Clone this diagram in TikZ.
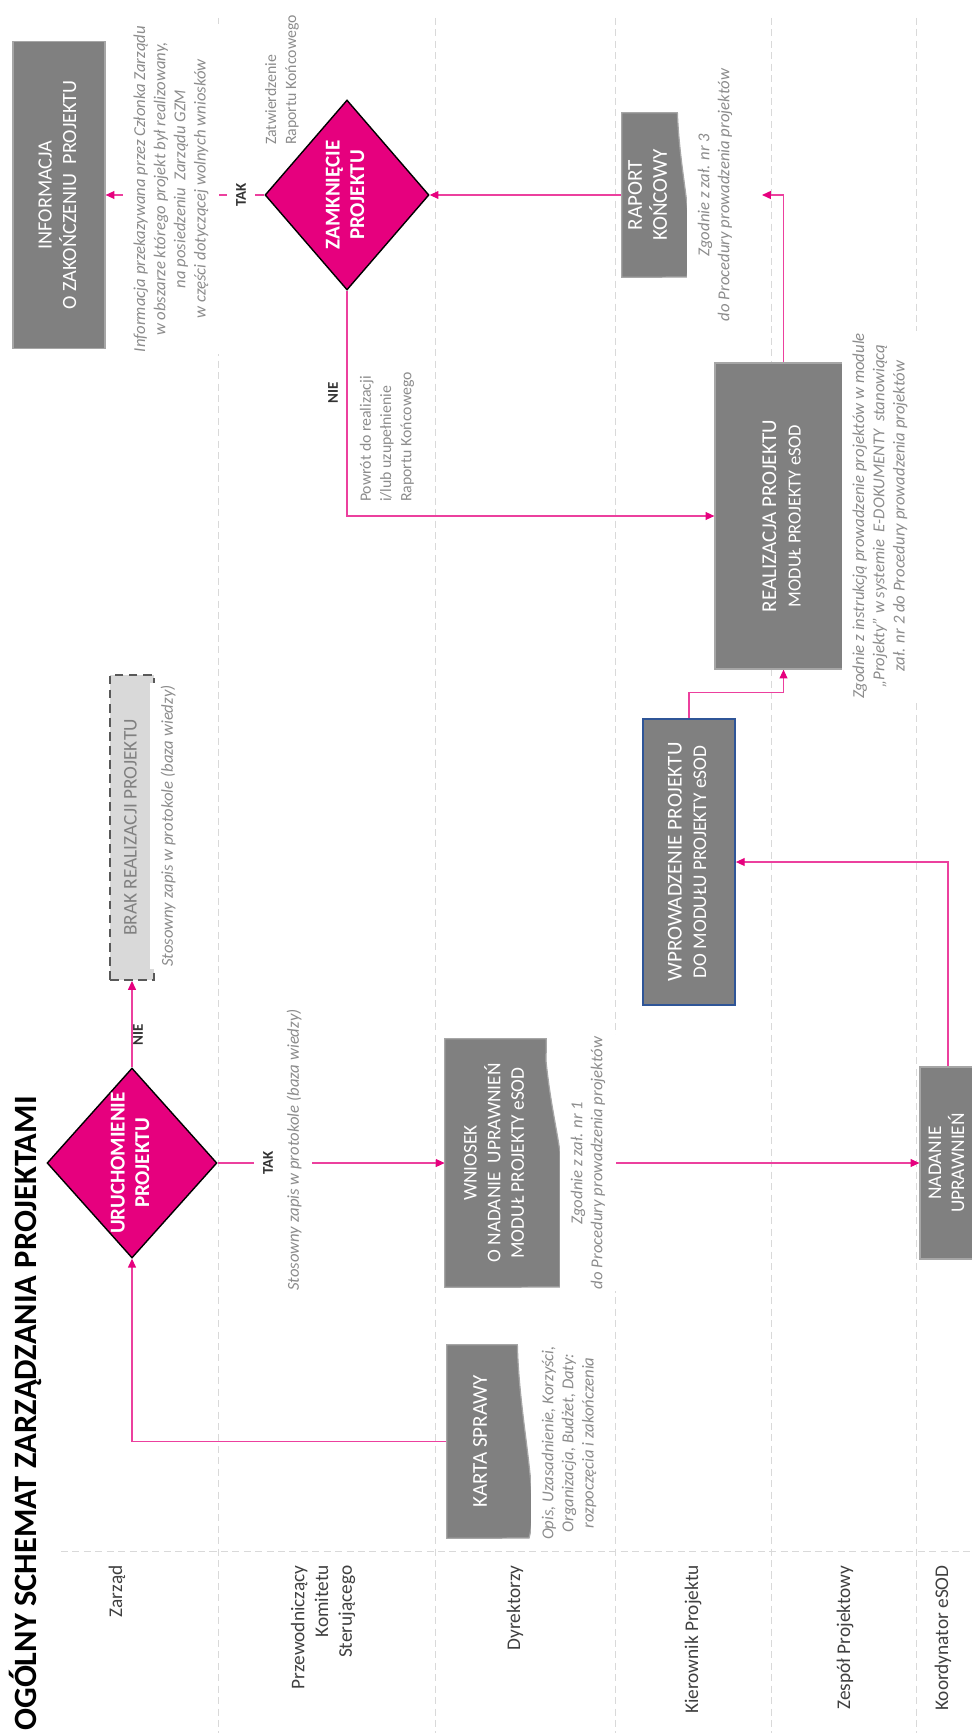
\documentclass[tikz,border=0pt]{standalone}
\usepackage{fontspec}
\setmainfont{Carlito}
\usepackage{graphicx}
\usetikzlibrary{shapes.geometric,arrows.meta,backgrounds}
\definecolor{gzmpink}{RGB}{230,0,126}
\definecolor{boxgrey}{RGB}{128,128,128}
\definecolor{wprblue}{RGB}{47,85,151}
\newcommand{\uptext}[1]{\rotatebox{90}{\begin{tabular}{@{}c@{}}#1\end{tabular}}}

\begin{document}
\begin{tikzpicture}[x=0.2mm, y=-0.2mm,
    lanesep/.style={draw=black!15, line width=0.5pt, dash pattern=on 4pt off 2.5pt},
    greybox/.style={rectangle, fill=boxgrey, draw=black!35, line width=0.7pt, text=white, inner sep=0pt},
    docbox/.style={rectangle, text=white, inner sep=0pt},
    docshape/.style={fill=boxgrey, draw=black!35, line width=0.7pt},
    decision/.style={diamond, fill=gzmpink, draw=black, line width=0.8pt, text=white, inner sep=-3pt,
        minimum width=3.28cm, minimum height=3.8cm, font=\fontsize{12}{14}\selectfont\bfseries},
    note/.style={rotate=90, align=center, fill=white, text=black!45, inner xsep=1pt, inner ysep=6pt,
        font=\fontsize{9.5}{11.5}\selectfont\itshape},
    remark/.style={rotate=90, align=left, anchor=west, text=black!45, inner sep=1pt,
        font=\fontsize{9}{11.5}\selectfont},
    lanelabel/.style={rotate=90, align=right, anchor=east, text=black!75, inner sep=0pt,
        font=\fontsize{11}{13.5}\selectfont},
    answer/.style={rotate=90, fill=white, text=black!80, inner xsep=2pt, inner ysep=5pt,
        font=\fontsize{8.5}{10}\selectfont\bfseries},
    flow/.style={draw=gzmpink!75, line width=0.6pt, -{Triangle[length=5pt, width=4.5pt, color=gzmpink]}}
]
    \useasboundingbox (0,0) rectangle (971,1733);

    % Title and swimlane names
    \node[rotate=90, anchor=west, inner sep=0pt, font=\fontsize{18.5}{22}\selectfont\bfseries] (title) at (25,1731)
        {OGÓLNY SCHEMAT ZARZĄDZANIA PROJEKTAMI};
    \node[lanelabel] (lzarz) at (117,1565) {Zarząd};
    \node[lanelabel] (lprzew) at (323,1565) {Przewodniczący\\Komitetu\\Sterującego};
    \node[lanelabel] (ldyr) at (515,1565) {Dyrektorzy};
    \node[lanelabel] (lkier) at (693,1565) {Kierownik Projektu};
    \node[lanelabel] (lzesp) at (845,1565) {Zespół Projektowy};
    \node[lanelabel] (lkoord) at (943,1565) {Koordynator eSOD};

    % Steps
    \node[greybox, minimum width=1.84cm, minimum height=6.14cm, font=\fontsize{11.5}{14}\selectfont] (info) at (59,195)
        {\uptext{INFORMACJA\\O ZAKOŃCZENIU\ \ PROJEKTU}};
    \node[decision] (zam) at (347,195) {\uptext{ZAMKNIĘCIE\\PROJEKTU}};
    \node[docbox, minimum width=1.1cm, minimum height=3.28cm, font=\fontsize{12}{14}\selectfont] (raport) at (649.5,195)
        {\uptext{RAPORT\\KOŃCOWY}};
    \node[greybox, minimum width=2.74cm, minimum height=6.12cm, font=\fontsize{12}{14}\selectfont] (real) at (783.5,516)
        {\uptext{REALIZACJA PROJEKTU\\\fontsize{10.5}{13}\selectfont MODUŁ PROJEKTY eSOD}};
    \node[greybox, draw=wprblue, line width=1pt, minimum width=1.84cm, minimum height=5.72cm,
        font=\fontsize{12}{14}\selectfont] (wpr) at (689,862)
        {\uptext{WPROWADZENIE PROJEKTU\\\fontsize{11}{13}\selectfont DO MODUŁU PROJEKTY eSOD}};
    \node[greybox, minimum width=1.12cm, minimum height=3.84cm, font=\fontsize{11}{13}\selectfont] (nad) at (948,1163)
        {\uptext{NADANIE\\UPRAWNIEŃ}};
    \node[docbox, minimum width=2.02cm, minimum height=4.96cm, font=\fontsize{11}{13.5}\selectfont] (wn) at (495.5,1163)
        {\uptext{WNIOSEK\\O NADANIE\ \ UPRAWNIEŃ\\MODUŁ PROJEKTY eSOD}};
    \node[decision] (uru) at (132,1163) {\uptext{URUCHOMIENIE\\PROJEKTU}};
    \node[rectangle, fill=black!15, draw=black!65, line width=1.1pt, dash pattern=on 5pt off 3pt, text=black!50,
        inner sep=0pt, minimum width=0.88cm, minimum height=6.1cm, font=\fontsize{11}{13}\selectfont] (brak) at (132,827.5)
        {\uptext{BRAK REALIZACJI PROJEKTU}};
    \node[docbox, minimum width=1.4cm, minimum height=3.86cm, font=\fontsize{12}{14}\selectfont] (karta) at (482,1441.5)
        {\uptext{KARTA SPRAWY}};
    \coordinate (rapin) at (762,195);

    % Comments beside the steps
    \node[note] (infonote) at (171,189) {Informacja przekazywana przez Członka Zarządu\\w obszarze którego projekt był realizowany,\\na posiedzeniu\ \ Zarządu GZM\\w części dotyczącej wolnych wniosków};
    \node[remark] (zatw) at (282,147) {Zatwierdzenie\\Raportu Końcowego};
    \node[remark] (powrot) at (387,504) {Powrót do realizacji\\i/lub uzupełnienie\\Raportu Końcowego};
    \node[note] (raportnote) at (715,195) {Zgodnie z zał. nr 3\\do Procedury prowadzenia projektów};
    \node[note] (realnote) at (880,516) {Zgodnie z instrukcją prowadzenie projektów w module\\„Projekty” w systemie\ \ E-DOKUMENTY\ \ stanowiącą\\zał. nr 2 do Procedury prowadzenia projektów};
    \node[note] (wnnote) at (588,1163) {Zgodnie z zał. nr 1\\do Procedury prowadzenia projektów};
    \node[note] (urunote) at (294,1150) {Stosowny zapis w protokole (baza wiedzy)};
    \node[note] (braknote) at (168,826) {Stosowny zapis w protokole (baza wiedzy)};
    \node[note] (kartanote) at (569,1443) {Opis, Uzasadnienie, Korzyści,\\Organizacja, Budżet, Daty:\\rozpoczęcia i zakończenia};

    % Decision answers
    \node[answer] (takzam) at (241,195) {TAK};
    \node[answer, fill=none] (niezam) at (333,393) {NIE};
    \node[answer] (takuru) at (268,1163) {TAK};
    \node[answer, fill=none] (nieuru) at (138,1035) {NIE};

    \begin{scope}[on background layer]
        % lanes
        \foreach \x in {218,435,615,771,916}
            \draw[lanesep] (\x,18) -- (\x,1733);
        \draw[lanesep] (61,1551) -- (971,1551);
        % flow
        \draw[flow] (karta.west) -| (uru.south);
        \draw[flow] (uru.north) -- (brak.south);
        \draw[flow] (uru.east) -- (wn.west);
        \draw[flow] (wn.east) -- (nad.west);
        \draw[flow] (nad.north) |- (wpr.east);
        \draw[flow] (wpr.north) -- ++(0,-26) -| (real.south);
        \draw[flow] (real.north) |- (rapin);
        \draw[flow] (zam.south) |- (real.west);
        \draw[flow] (raport.west) -- (zam.east);
        \draw[flow] (zam.west) -- (info.east);
        % document shapes
        \draw[docshape] (karta.north west) -- (karta.north east)
            .. controls (519,1420) and (540,1500) .. (529,1538) -- (karta.south west) -- cycle;
        \draw[docshape] (wn.north west) -- (wn.north east) -- (546,1061)
            .. controls (550,1100) and (556,1125) .. (560,1152) -- (560,1287) -- (wn.south west) -- cycle;
        \draw[docshape] (raport.north west) -- (raport.north east)
            .. controls (680,180) and (696,225) .. (687,277) -- (raport.south west) -- cycle;
    \end{scope}
\end{tikzpicture}
\end{document}
